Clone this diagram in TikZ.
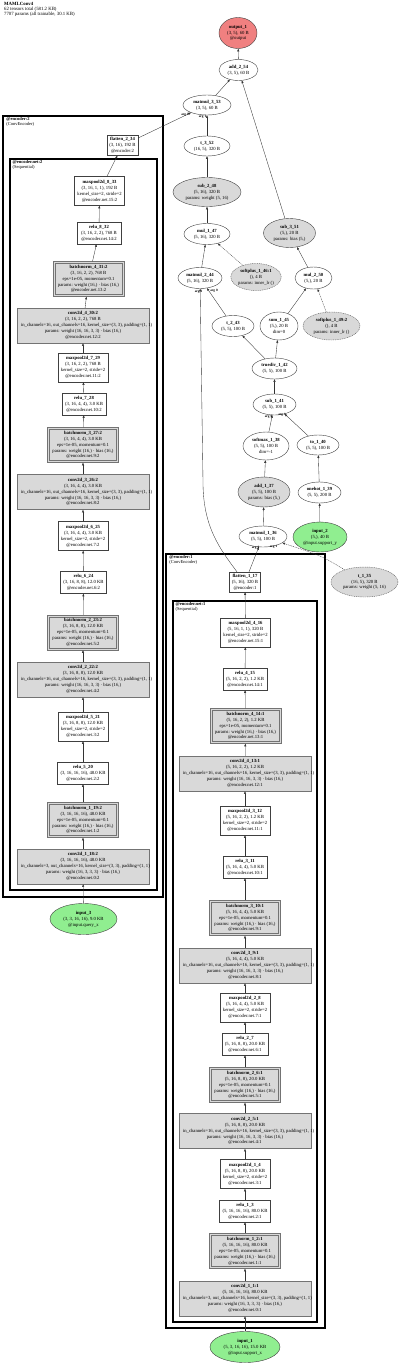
\documentclass[tikz,border=0pt]{standalone}
\usepackage{fontspec}
\setmainfont{Liberation Serif}
\usepackage{tikz}
\usetikzlibrary{arrows.meta,shapes.geometric,fit,calc,backgrounds}
\definecolor{prmgray}{RGB}{217,217,217}
\definecolor{inpgreen}{RGB}{144,238,144}
\definecolor{outred}{RGB}{240,128,128}
\newcommand{\wideline}[1]{\makebox[124pt][l]{#1}}

\begin{document}
\begin{tikzpicture}[
  x=1pt, y=-1pt,
  font=\fontsize{4.7}{5.9}\selectfont,
  lay/.style={draw=black!75, fill=white, align=center, inner xsep=3pt, inner ysep=1.5pt, line width=0.4pt},
  prm/.style={lay, fill=prmgray, draw=black!55, line width=0.5pt},
  conv/.style={prm, inner xsep=4pt, minimum height=35pt},
  bnorm/.style={prm, minimum width=61pt, minimum height=31pt},
  bnring/.style={draw=black!55, fill=prmgray, line width=0.55pt, inner sep=1.7pt},
  pool/.style={lay, minimum width=50pt, minimum height=29pt},
  act/.style={lay, minimum width=44pt, minimum height=22pt},
  flat/.style={lay, minimum width=31pt, minimum height=20pt, inner xsep=1.5pt},
  op/.style={ellipse, draw=black!75, fill=white, align=center, inner sep=0pt, line width=0.4pt, minimum width=42pt, minimum height=21pt},
  opp/.style={op, fill=prmgray, minimum height=29pt},
  frz/.style={opp, draw=black!60, line width=0.45pt, dash pattern=on 1pt off 0.8pt},
  inp/.style={op, fill=inpgreen, minimum height=31pt},
  outp/.style={op, fill=outred, minimum height=31pt, minimum width=38pt},
  clus/.style={draw=black, inner sep=0pt, line width=1.6pt},
  subclus/.style={draw=black, inner sep=0pt, line width=1.2pt},
  clab/.style={anchor=north west, align=left, inner sep=0pt, font=\fontsize{4.5}{5}\selectfont},
  arr/.style={-{Triangle[length=2.6pt,width=2pt]}, black!80, line width=0.35pt},
  darr/.style={arr, dash pattern=on 1pt off 0.8pt},
  elab/.style={inner sep=0pt, font=\fontsize{3.4}{4}\selectfont\bfseries},
]
\useasboundingbox (0,0) rectangle (400,1363);
% ---- title ----
\node[anchor=north west, align=left, inner sep=0pt, font=\fontsize{4.8}{5}\selectfont] (hdr) at (4,2) {\textbf{MAMLConv4}\\62 tensors total (581.2 KB)\\7707 params (all trainable, 30.1 KB)};
% ---- clusters ----
\node[clus, fit={(3,116) (163,897)}] (enc2) {};
\node[clab] (enc2lab) at ($(enc2.north west)+(4,2)$) {\textbf{@encoder:2}\\(ConvEncoder)};
\node[subclus, fit={(10,159) (157,890)}] (net2) {};
\node[clab] (net2lab) at ($(net2.north west)+(3,2)$) {\textbf{@encoder.net:2}\\(Sequential)};
\node[clus, fit={(166,554) (325,1328)}] (enc1) {};
\node[clab] (enc1lab) at ($(enc1.north west)+(4,2)$) {\textbf{@encoder:1}\\(ConvEncoder)};
\node[subclus, fit={(173,601) (317,1322)}] (net1) {};
\node[clab] (net1lab) at ($(net1.north west)+(3,2)$) {\textbf{@encoder.net:1}\\(Sequential)};
% ---- query encoder ----
\node[flat] (flat2) at (122.5,145.5) {\textbf{flatten\_2\_34}\\(3, 16), 192 B\\@encoder:2};
\node[pool] (mp8) at (99.5,191) {\textbf{maxpool2d\_8\_33}\\(3, 16, 1, 1), 192 B\\kernel\_size=2, stride=2\\@encoder.net.15:2};
\node[act] (re8) at (99,233) {\textbf{relu\_8\_32}\\(3, 16, 2, 2), 768 B\\@encoder.net.14:2};
\node[bnorm] (bn4b) at (88.5,279) {\textbf{batchnorm\_4\_31:2}\\(3, 16, 2, 2), 768 B\\eps=1e-05, momentum=0.1\\params: weight (16,) · bias (16,)\\@encoder.net.13:2};
\node[conv] (cv4b) at (83,325.5) {\textbf{conv2d\_4\_30:2}\\(3, 16, 2, 2), 768 B\\\wideline{in\_channels=16, out\_channels=16, kernel\_size=(3, 3), padding=(1, 1)}\\params: weight (16, 16, 3, 3) · bias (16,)\\@encoder.net.12:2};
\node[pool] (mp7) at (83,367.5) {\textbf{maxpool2d\_7\_29}\\(3, 16, 2, 2), 768 B\\kernel\_size=2, stride=2\\@encoder.net.11:2};
\node[act] (re7) at (84,404) {\textbf{relu\_7\_28}\\(3, 16, 4, 4), 3.0 KB\\@encoder.net.10:2};
\node[bnorm] (bn3b) at (83,445) {\textbf{batchnorm\_3\_27:2}\\(3, 16, 4, 4), 3.0 KB\\eps=1e-05, momentum=0.1\\params: weight (16,) · bias (16,)\\@encoder.net.9:2};
\node[conv] (cv3b) at (83,492) {\textbf{conv2d\_3\_26:2}\\(3, 16, 4, 4), 3.0 KB\\\wideline{in\_channels=16, out\_channels=16, kernel\_size=(3, 3), padding=(1, 1)}\\params: weight (16, 16, 3, 3) · bias (16,)\\@encoder.net.8:2};
\node[pool] (mp6) at (83,536) {\textbf{maxpool2d\_6\_25}\\(3, 16, 4, 4), 3.0 KB\\kernel\_size=2, stride=2\\@encoder.net.7:2};
\node[act] (re6) at (83.5,582.5) {\textbf{relu\_6\_24}\\(3, 16, 8, 8), 12.0 KB\\@encoder.net.6:2};
\node[bnorm] (bn2b) at (83,632.5) {\textbf{batchnorm\_2\_23:2}\\(3, 16, 8, 8), 12.0 KB\\eps=1e-05, momentum=0.1\\params: weight (16,) · bias (16,)\\@encoder.net.5:2};
\node[conv] (cv2b) at (83,679.5) {\textbf{conv2d\_2\_22:2}\\(3, 16, 8, 8), 12.0 KB\\\wideline{in\_channels=16, out\_channels=16, kernel\_size=(3, 3), padding=(1, 1)}\\params: weight (16, 16, 3, 3) · bias (16,)\\@encoder.net.4:2};
\node[pool] (mp5) at (83,726.5) {\textbf{maxpool2d\_5\_21}\\(3, 16, 8, 8), 12.0 KB\\kernel\_size=2, stride=2\\@encoder.net.3:2};
\node[act] (re5) at (83,773) {\textbf{relu\_5\_20}\\(3, 16, 16, 16), 48.0 KB\\@encoder.net.2:2};
\node[bnorm] (bn1b) at (83,820) {\textbf{batchnorm\_1\_19:2}\\(3, 16, 16, 16), 48.0 KB\\eps=1e-05, momentum=0.1\\params: weight (16,) · bias (16,)\\@encoder.net.1:2};
\node[conv] (cv1b) at (83,866.5) {\textbf{conv2d\_1\_18:2}\\(3, 16, 16, 16), 48.0 KB\\\wideline{in\_channels=3, out\_channels=16, kernel\_size=(3, 3), padding=(1, 1)}\\params: weight (16, 3, 3, 3) · bias (16,)\\@encoder.net.0:2};
\node[inp, minimum width=67pt] (in3) at (83.5,919) {\textbf{input\_3}\\(3, 3, 16, 16), 9.0 KB\\@input.query\_x};
% ---- support encoder ----
\node[flat] (flat1) at (245,582) {\textbf{flatten\_1\_17}\\(5, 16), 320 B\\@encoder:1};
\node[pool] (mp4) at (245.5,632.5) {\textbf{maxpool2d\_4\_16}\\(5, 16, 1, 1), 320 B\\kernel\_size=2, stride=2\\@encoder.net.15:1};
\node[act] (re4) at (245,679) {\textbf{relu\_4\_15}\\(5, 16, 2, 2), 1.2 KB\\@encoder.net.14:1};
\node[bnorm] (bn4a) at (245.5,726) {\textbf{batchnorm\_4\_14:1}\\(5, 16, 2, 2), 1.2 KB\\eps=1e-05, momentum=0.1\\params: weight (16,) · bias (16,)\\@encoder.net.13:1};
\node[conv] (cv4a) at (245,773.5) {\textbf{conv2d\_4\_13:1}\\(5, 16, 2, 2), 1.2 KB\\\wideline{in\_channels=16, out\_channels=16, kernel\_size=(3, 3), padding=(1, 1)}\\params: weight (16, 16, 3, 3) · bias (16,)\\@encoder.net.12:1};
\node[pool] (mp3) at (245,820.5) {\textbf{maxpool2d\_3\_12}\\(5, 16, 2, 2), 1.2 KB\\kernel\_size=2, stride=2\\@encoder.net.11:1};
\node[act] (re3) at (245,867) {\textbf{relu\_3\_11}\\(5, 16, 4, 4), 5.0 KB\\@encoder.net.10:1};
\node[bnorm] (bn3a) at (245,918) {\textbf{batchnorm\_3\_10:1}\\(5, 16, 4, 4), 5.0 KB\\eps=1e-05, momentum=0.1\\params: weight (16,) · bias (16,)\\@encoder.net.9:1};
\node[conv] (cv3a) at (245,965.5) {\textbf{conv2d\_3\_9:1}\\(5, 16, 4, 4), 5.0 KB\\\wideline{in\_channels=16, out\_channels=16, kernel\_size=(3, 3), padding=(1, 1)}\\params: weight (16, 16, 3, 3) · bias (16,)\\@encoder.net.8:1};
\node[pool] (mp2) at (245,1007.5) {\textbf{maxpool2d\_2\_8}\\(5, 16, 4, 4), 5.0 KB\\kernel\_size=2, stride=2\\@encoder.net.7:1};
\node[act] (re2) at (245,1044) {\textbf{relu\_2\_7}\\(5, 16, 8, 8), 20.0 KB\\@encoder.net.6:1};
\node[bnorm] (bn2a) at (245,1085) {\textbf{batchnorm\_2\_6:1}\\(5, 16, 8, 8), 20.0 KB\\eps=1e-05, momentum=0.1\\params: weight (16,) · bias (16,)\\@encoder.net.5:1};
\node[conv] (cv2a) at (245,1131) {\textbf{conv2d\_2\_5:1}\\(5, 16, 8, 8), 20.0 KB\\\wideline{in\_channels=16, out\_channels=16, kernel\_size=(3, 3), padding=(1, 1)}\\params: weight (16, 16, 3, 3) · bias (16,)\\@encoder.net.4:1};
\node[pool] (mp1) at (245,1174) {\textbf{maxpool2d\_1\_4}\\(5, 16, 8, 8), 20.0 KB\\kernel\_size=2, stride=2\\@encoder.net.3:1};
\node[act] (re1) at (245,1211) {\textbf{relu\_1\_3}\\(5, 16, 16, 16), 80.0 KB\\@encoder.net.2:1};
\node[bnorm] (bn1a) at (245,1251) {\textbf{batchnorm\_1\_2:1}\\(5, 16, 16, 16), 80.0 KB\\eps=1e-05, momentum=0.1\\params: weight (16,) · bias (16,)\\@encoder.net.1:1};
\node[conv] (cv1a) at (245,1298.5) {\textbf{conv2d\_1\_1:1}\\(5, 16, 16, 16), 80.0 KB\\\wideline{in\_channels=3, out\_channels=16, kernel\_size=(3, 3), padding=(1, 1)}\\params: weight (16, 3, 3, 3) · bias (16,)\\@encoder.net.0:1};
\node[inp, minimum width=70pt] (in1) at (245,1347) {\textbf{input\_1}\\(5, 3, 16, 16), 15.0 KB\\@input.support\_x};
% second periphery of the batchnorm boxes
\begin{scope}[on background layer]
\node[bnring, fit=(bn4b)] (bn4bring) {};
\node[bnring, fit=(bn3b)] (bn3bring) {};
\node[bnring, fit=(bn2b)] (bn2bring) {};
\node[bnring, fit=(bn1b)] (bn1bring) {};
\node[bnring, fit=(bn4a)] (bn4aring) {};
\node[bnring, fit=(bn3a)] (bn3aring) {};
\node[bnring, fit=(bn2a)] (bn2aring) {};
\node[bnring, fit=(bn1a)] (bn1aring) {};
\end{scope}
% ---- prototype head ----
\node[outp] (out) at (238,33) {\textbf{output\_1}\\(3, 5), 60 B\\@output};
\node[op, minimum width=39pt] (add2) at (238.5,70) {\textbf{add\_2\_54}\\(3, 5), 60 B};
\node[op, minimum width=48pt, minimum height=20pt] (mm3) at (207,105) {\textbf{matmul\_3\_53}\\(3, 5), 60 B};
\node[op, minimum width=46pt, minimum height=20pt] (t3) at (207,146) {\textbf{t\_3\_52}\\(16, 5), 320 B};
\node[opp, minimum width=68pt] (sub2) at (207,192) {\textbf{sub\_2\_48}\\(5, 16), 320 B\\params: weight (5, 16)};
\node[op, minimum width=46pt] (mul1) at (207,234) {\textbf{mul\_1\_47}\\(5, 16), 320 B};
\node[opp, minimum width=52pt] (sub3) at (289.5,233) {\textbf{sub\_3\_51}\\(5,), 20 B\\params: bias (5,)};
\node[op, minimum width=44pt] (mm2) at (200,278) {\textbf{matmul\_2\_44}\\(5, 16), 320 B};
\node[frz, minimum width=48pt, minimum height=27pt] (sp1) at (256,277) {\textbf{softplus\_1\_46:1}\\(), 4 B\\params: inner\_lr ()};
\node[op, minimum width=37pt, minimum height=22pt] (mul2) at (313.5,278) {\textbf{mul\_2\_50}\\(5,), 20 B};
\node[op] (t2) at (233,326) {\textbf{t\_2\_43}\\(5, 5), 100 B};
\node[op, minimum width=38pt, minimum height=28pt] (sum1) at (279,326) {\textbf{sum\_1\_45}\\(5,), 20 B\\dim=0};
\node[frz, minimum width=57pt, minimum height=28pt] (sp2) at (331.5,326) {\textbf{softplus\_1\_49:2}\\(), 4 B\\params: inner\_lr ()};
\node[op, minimum width=45pt] (div1) at (274.5,368.5) {\textbf{truediv\_1\_42}\\(5, 5), 100 B};
\node[op, minimum width=43pt] (sub1) at (274.5,404.5) {\textbf{sub\_1\_41}\\(5, 5), 100 B};
\node[op, minimum width=46pt, minimum height=28pt] (smx) at (266,446) {\textbf{softmax\_1\_38}\\(5, 5), 100 B\\dim=-1};
\node[op, minimum height=20pt] (to1) at (318,445) {\textbf{to\_1\_40}\\(5, 5), 100 B};
\node[opp, minimum width=52pt, minimum height=30pt] (add1) at (264,492) {\textbf{add\_1\_37}\\(5, 5), 100 B\\params: bias (5,)};
\node[op, minimum width=43pt] (oh1) at (319.5,492.5) {\textbf{onehot\_1\_39}\\(5, 5), 200 B};
\node[op, minimum width=48pt] (mm1) at (263,536.5) {\textbf{matmul\_1\_36}\\(5, 5), 100 B};
\node[inp, minimum width=54pt, minimum height=30pt] (in2) at (320,537) {\textbf{input\_2}\\(5,), 40 B\\@input.support\_y};
\node[frz, minimum width=67pt, minimum height=30pt] (t1) at (364.5,582) {\textbf{t\_1\_35}\\(16, 5), 320 B\\params: weight (5, 16)};
% ---- query encoder arrows ----
\draw[arr] (in3) -- (cv1b);
\draw[arr] (cv1b) -- (bn1bring);
\draw[arr] (bn1bring) -- (re5);
\draw[arr] (re5) -- (mp5);
\draw[arr] (mp5) -- (cv2b);
\draw[arr] (cv2b) -- (bn2bring);
\draw[arr] (bn2bring) -- (re6);
\draw[arr] (re6) -- (mp6);
\draw[arr] (mp6) -- (cv3b);
\draw[arr] (cv3b) -- (bn3bring);
\draw[arr] (bn3bring) -- (re7);
\draw[arr] (re7) -- (mp7);
\draw[arr] (mp7) -- (cv4b);
\draw[arr] (cv4b) -- (bn4bring);
\draw[arr] (bn4bring) -- (re8);
\draw[arr] (re8) -- (mp8);
\draw[arr] (mp8) -- (flat2);
% ---- support encoder arrows ----
\draw[arr] (in1) -- (cv1a);
\draw[arr] (cv1a) -- (bn1aring);
\draw[arr] (bn1aring) -- (re1);
\draw[arr] (re1) -- (mp1);
\draw[arr] (mp1) -- (cv2a);
\draw[arr] (cv2a) -- (bn2aring);
\draw[arr] (bn2aring) -- (re2);
\draw[arr] (re2) -- (mp2);
\draw[arr] (mp2) -- (cv3a);
\draw[arr] (cv3a) -- (bn3aring);
\draw[arr] (bn3aring) -- (re3);
\draw[arr] (re3) -- (mp3);
\draw[arr] (mp3) -- (cv4a);
\draw[arr] (cv4a) -- (bn4aring);
\draw[arr] (bn4aring) -- (re4);
\draw[arr] (re4) -- (mp4);
\draw[arr] (mp4) -- (flat1);
% ---- head arrows ----
\draw[arr] (flat1.north) ++(4,0) -- (mm1);
\draw[arr] (flat1.north) ++(-8,0) .. controls (220,549) and (203,527) .. (203,482) -- (mm2);
\draw[darr] (t1) .. controls (322,556) .. (mm1);
\draw[arr] (mm1) -- (add1);
\draw[arr] (add1) -- (smx);
\draw[arr] (in2) -- (oh1);
\draw[arr] (oh1) -- (to1);
\draw[arr] (smx) -- (sub1);
\draw[arr] (to1) -- (sub1);
\draw[arr] (sub1) -- (div1);
\draw[arr] (div1) -- (t2);
\draw[arr] (div1) -- (sum1);
\draw[arr] (t2) -- (mm2);
\draw[arr] (sum1) -- (mul2);
\draw[darr] (sp2) -- (mul2);
\draw[arr] (mm2) -- (mul1);
\draw[darr] (sp1) -- (mul1);
\draw[arr] (mul1) -- (sub2);
\draw[arr] (mul2) -- (sub3);
\draw[arr] (sub2) -- (t3);
\draw[arr] (t3) -- (mm3);
\draw[arr] (flat2) -- (mm3);
\draw[arr] (mm3) -- (add2);
\draw[arr] (sub3) -- (add2);
\draw[arr] (add2) -- (out);
% argument labels
\node[elab] (a0mm3) at (185,114.5) {arg 0};
\node[elab] (a1mm3) at (202.5,117) {arg 1};
\node[elab] (a1mm2) at (198.5,291.5) {arg 1};
\node[elab] (a0mm2) at (214,290.5) {arg 0};
\node[elab] (a0sub1) at (268.5,416.5) {arg 0};
\node[elab] (a1sub1) at (282,415) {arg 1};
\node[elab] (a0mm1) at (255.5,548) {arg 0};
\node[elab] (a1mm1) at (273.5,547) {arg 1};
\end{tikzpicture}
\end{document}
